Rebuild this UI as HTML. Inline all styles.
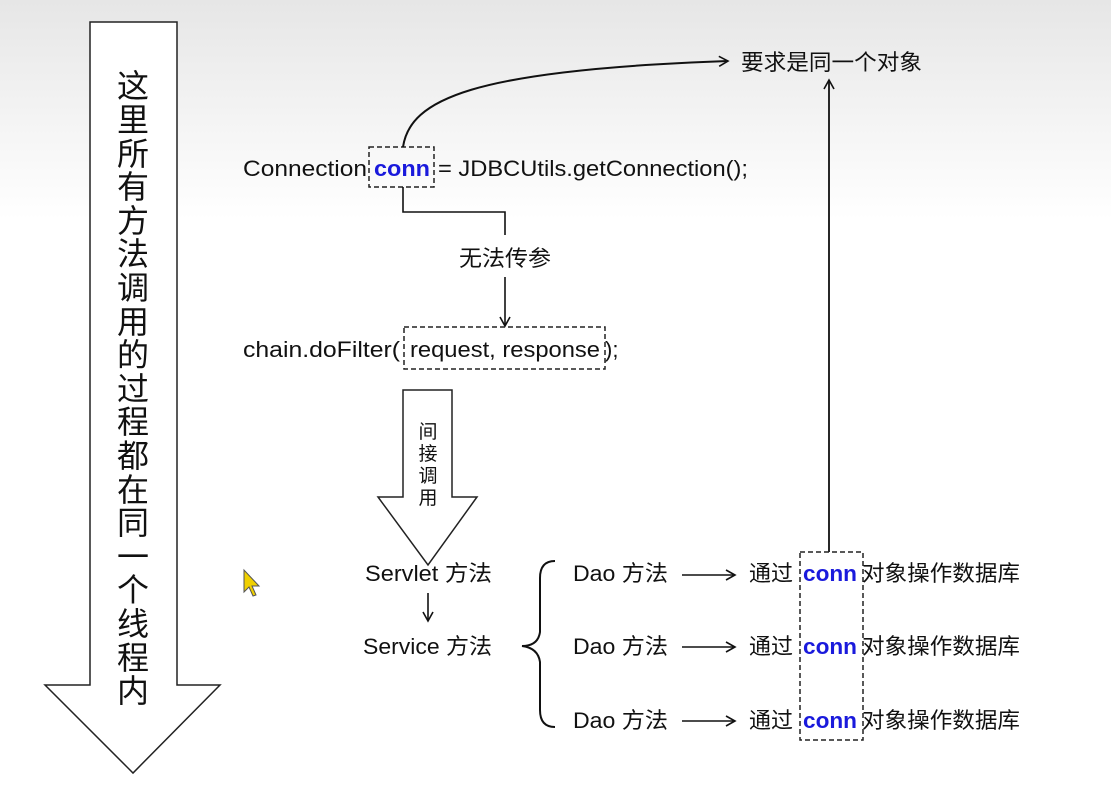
<!DOCTYPE html>
<html><head><meta charset="utf-8"><style>
body{margin:0;width:1111px;height:802px;overflow:hidden;background:linear-gradient(#e6e6e6 0px,#f4f4f4 120px,#fff 220px,#fff);}
svg{position:absolute;left:0;top:0}
text{font-family:"Liberation Sans","Noto Sans CJK SC",sans-serif;font-size:22px;fill:#111}
.b{fill:#1a1adc;font-weight:bold}
.v{font-size:32px}
</style></head><body>
<svg width="1111" height="802" viewBox="0 0 1111 802">
<defs><marker id="a" markerWidth="12" markerHeight="12" refX="10" refY="6" orient="auto" markerUnits="userSpaceOnUse"><path d="M1,1 L10,6 L1,11" fill="none" stroke="#111" stroke-width="1.6"/></marker></defs>
<path d="M90,22 H177 V685 H220 L133,773 L45,685 H90 Z" fill="#fff" stroke="#222" stroke-width="1.5"/>
<g text-anchor="middle">
<text x="133" y="97" class="v">这</text>
<text x="133" y="131" class="v">里</text>
<text x="133" y="165" class="v">所</text>
<text x="133" y="198" class="v">有</text>
<text x="133" y="232" class="v">方</text>
<text x="133" y="265" class="v">法</text>
<text x="133" y="299" class="v">调</text>
<text x="133" y="333" class="v">用</text>
<text x="133" y="366" class="v">的</text>
<text x="133" y="400" class="v">过</text>
<text x="133" y="433" class="v">程</text>
<text x="133" y="467" class="v">都</text>
<text x="133" y="501" class="v">在</text>
<text x="133" y="534" class="v">同</text>
<text x="133" y="568" class="v">一</text>
<text x="133" y="601" class="v">个</text>
<text x="133" y="635" class="v">线</text>
<text x="133" y="669" class="v">程</text>
<text x="133" y="702" class="v">内</text>
</g>
<path d="M244,570 L244,592 L249,587 L253,596 L256,595 L252,586 L259,586 Z" fill="#f0d000" stroke="#555" stroke-width="1"/>
<text x="243" y="176" textLength="124" lengthAdjust="spacingAndGlyphs">Connection</text>
<rect x="369" y="147" width="65" height="40" fill="none" stroke="#222" stroke-width="1.5" stroke-dasharray="5,3"/>
<text x="374" y="176" class="b" textLength="56" lengthAdjust="spacingAndGlyphs">conn</text>
<text x="438" y="176" textLength="310" lengthAdjust="spacingAndGlyphs">= JDBCUtils.getConnection();</text>
<path d="M403,147 C410,100 470,70 728,61" fill="none" stroke="#111" stroke-width="2" marker-end="url(#a)"/>
<text x="741" y="70" textLength="181" lengthAdjust="spacingAndGlyphs">要求是同一个对象</text>
<path d="M829,552 V80" fill="none" stroke="#111" stroke-width="1.8" marker-end="url(#a)"/>
<path d="M403,187 V212 H505 V235" fill="none" stroke="#111" stroke-width="1.6"/>
<text x="459" y="266" textLength="92" lengthAdjust="spacingAndGlyphs">无法传参</text>
<path d="M505,277 V326" fill="none" stroke="#111" stroke-width="1.6" marker-end="url(#a)"/>
<text x="243" y="357" textLength="157" lengthAdjust="spacingAndGlyphs">chain.doFilter(</text>
<rect x="404" y="327" width="201" height="42" fill="none" stroke="#222" stroke-width="1.5" stroke-dasharray="5,3"/>
<text x="410" y="357" textLength="190" lengthAdjust="spacingAndGlyphs">request, response</text>
<text x="605" y="357">);</text>
<path d="M403,390 H452 V497 H477 L428,565 L378,497 H403 Z" fill="#fff" stroke="#222" stroke-width="1.5"/>
<g text-anchor="middle">
<text x="428" y="438" style="font-size:19px">间</text>
<text x="428" y="460" style="font-size:19px">接</text>
<text x="428" y="482" style="font-size:19px">调</text>
<text x="428" y="504" style="font-size:19px">用</text>
</g>
<text x="365" y="581" textLength="127" lengthAdjust="spacingAndGlyphs">Servlet 方法</text>
<path d="M428,593 V621" fill="none" stroke="#111" stroke-width="1.6" marker-end="url(#a)"/>
<text x="363" y="654" textLength="129" lengthAdjust="spacingAndGlyphs">Service 方法</text>
<path d="M555,561 Q540,561 540,578 V632 Q538,646 522,646 Q538,648 540,662 V710 Q540,727 555,727" fill="none" stroke="#111" stroke-width="2"/>
<text x="573" y="581" textLength="95" lengthAdjust="spacingAndGlyphs">Dao 方法</text>
<text x="573" y="654" textLength="95" lengthAdjust="spacingAndGlyphs">Dao 方法</text>
<text x="573" y="728" textLength="95" lengthAdjust="spacingAndGlyphs">Dao 方法</text>
<path d="M682,575 H735" stroke="#111" stroke-width="1.6" marker-end="url(#a)"/>
<path d="M682,647 H735" stroke="#111" stroke-width="1.6" marker-end="url(#a)"/>
<path d="M682,721 H735" stroke="#111" stroke-width="1.6" marker-end="url(#a)"/>
<rect x="800" y="552" width="63" height="188" fill="none" stroke="#222" stroke-width="1.5" stroke-dasharray="5,3"/>
<text x="749" y="581" textLength="44" lengthAdjust="spacingAndGlyphs">通过</text><text x="803" y="581" class="b" textLength="54" lengthAdjust="spacingAndGlyphs">conn</text><text x="862" y="581" textLength="158" lengthAdjust="spacingAndGlyphs">对象操作数据库</text>
<text x="749" y="654" textLength="44" lengthAdjust="spacingAndGlyphs">通过</text><text x="803" y="654" class="b" textLength="54" lengthAdjust="spacingAndGlyphs">conn</text><text x="862" y="654" textLength="158" lengthAdjust="spacingAndGlyphs">对象操作数据库</text>
<text x="749" y="728" textLength="44" lengthAdjust="spacingAndGlyphs">通过</text><text x="803" y="728" class="b" textLength="54" lengthAdjust="spacingAndGlyphs">conn</text><text x="862" y="728" textLength="158" lengthAdjust="spacingAndGlyphs">对象操作数据库</text>
</svg>
</body></html>
